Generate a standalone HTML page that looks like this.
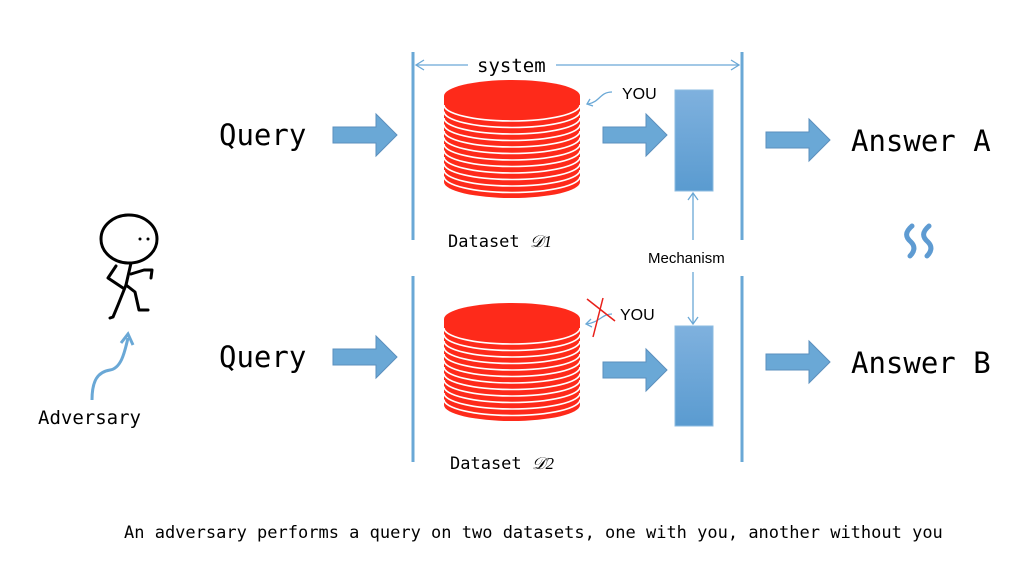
<!DOCTYPE html>
<html><head><meta charset="utf-8"><style>
body{margin:0;background:#fff;}
svg{display:block}
text{font-family:"DejaVu Sans Mono","Liberation Mono",monospace;fill:#000}
.s{font-family:"Liberation Sans",sans-serif}
</style></head><body>
<svg width="1024" height="567" viewBox="0 0 1024 567" xmlns="http://www.w3.org/2000/svg">
<defs>
<linearGradient id="g" x1="0" y1="0" x2="0" y2="1"><stop offset="0" stop-color="#7fb1de"/><stop offset="1" stop-color="#5a9bd0"/></linearGradient>
<g id="cyl">
<path d="M444 0 L444 86 A68 16 0 0 0 580 86 L580 0 Z" fill="#fe2a1a"/>
<g fill="none" stroke="#fff" stroke-width="1.6">
<path d="M444 9 A68 16 0 0 0 580 9"/><path d="M444 15.5 A68 16 0 0 0 580 15.5"/>
<path d="M444 22 A68 16 0 0 0 580 22"/><path d="M444 28.5 A68 16 0 0 0 580 28.5"/>
<path d="M444 35 A68 16 0 0 0 580 35"/><path d="M444 41.5 A68 16 0 0 0 580 41.5"/>
<path d="M444 48 A68 16 0 0 0 580 48"/><path d="M444 54.5 A68 16 0 0 0 580 54.5"/>
<path d="M444 61 A68 16 0 0 0 580 61"/><path d="M444 67.5 A68 16 0 0 0 580 67.5"/>
<path d="M444 74 A68 16 0 0 0 580 74"/><path d="M444 80.5 A68 16 0 0 0 580 80.5"/>
</g>
<ellipse cx="512" cy="0" rx="68" ry="16" fill="#fe2a1a"/>
</g>
<path id="bigarrow" d="M0 10 H43 V-3 L64 18 L43 39 V26 H0 Z" fill="#6aa8d6" stroke="#5b8fbd" stroke-width="1"/>
</defs>

<g stroke="#6aa8d6" stroke-width="3">
<line x1="413" y1="52" x2="413" y2="240"/><line x1="742" y1="52" x2="742" y2="240"/>
<line x1="413" y1="276" x2="413" y2="462"/><line x1="742" y1="276" x2="742" y2="462"/>
</g>
<g stroke="#6aa8d6" stroke-width="1.3" fill="none">
<line x1="416" y1="65" x2="468" y2="65"/><line x1="556" y1="65" x2="739" y2="65"/>
<path d="M424 60 L416 65 L424 70"/><path d="M731 60 L739 65 L731 70"/>
</g>
<text x="477" y="72" font-size="19">system</text>

<use href="#cyl" y="96"/>
<use href="#cyl" y="319"/>

<use href="#bigarrow" x="333" y="117"/>
<use href="#bigarrow" x="333" y="339"/>
<use href="#bigarrow" x="603" y="117"/>
<use href="#bigarrow" x="603" y="352"/>
<use href="#bigarrow" x="766" y="122"/>
<use href="#bigarrow" x="766" y="344"/>

<rect x="675" y="90" width="38" height="101" fill="url(#g)" stroke="#8bbbe0"/>
<rect x="675" y="326" width="38" height="100" fill="url(#g)" stroke="#8bbbe0"/>
<g stroke="#6aa8d6" stroke-width="1.3" fill="none">
<line x1="693" y1="193" x2="693" y2="240"/><path d="M688 200 L693 193 L698 200"/>
<line x1="693" y1="272" x2="693" y2="324"/><path d="M688 317 L693 324 L698 317"/>
<path d="M612 92 C600 92 600 102 588 104"/><path d="M590 99 L587 104 L593 106"/>
<path d="M612 314 C602 314 600 322 587 324"/><path d="M591 319 L586 324 L592 327"/>
</g>
<g stroke="#e8201a" stroke-width="1.5"><line x1="587" y1="299" x2="615" y2="321"/><line x1="603" y1="298" x2="593" y2="337"/></g>
<text class="s" x="622" y="99" font-size="16">YOU</text>
<text class="s" x="620" y="320" font-size="16">YOU</text>
<text class="s" x="648" y="263" font-size="15">Mechanism</text>

<text x="448" y="247" font-size="17">Dataset <tspan font-family="Liberation Serif" font-style="italic">𝒟1</tspan></text>
<text x="450" y="469" font-size="17">Dataset <tspan font-family="Liberation Serif" font-style="italic">𝒟2</tspan></text>

<text x="219" y="145" font-size="29">Query</text>
<text x="219" y="367" font-size="29">Query</text>
<text x="851" y="151" font-size="29">Answer A</text>
<text x="851" y="373" font-size="29">Answer B</text>

<g stroke="#5e9bd2" stroke-width="5" fill="none" stroke-linecap="round">
<path d="M912 226 C905 232 905 237 911 242 C916 247 914 252 910 256"/>
<path d="M929 226 C922 232 922 237 928 242 C933 247 931 252 927 256"/>
</g>

<g stroke="#000" stroke-width="3" fill="none" stroke-linecap="round" stroke-linejoin="round">
<ellipse cx="129" cy="239" rx="28" ry="24"/>
<path d="M131 263 L126 285 L118 305 L113 317 L110 318"/>
<path d="M126 285 L135 292 L139 310 L148 310"/>
<path d="M116 266 L108 278 L123 288"/>
<path d="M131 274 L144 270 L152 270 L151 278"/>
</g>
<circle cx="140" cy="239" r="1.5"/><circle cx="148" cy="239" r="1.5"/>
<path d="M92 400 C92 380 98 372 110 370 C122 368 125 350 128 338" stroke="#6aa8d6" stroke-width="3" fill="none"/>
<path d="M121 343 L128 334 L133 345" stroke="#6aa8d6" stroke-width="3" fill="none"/>
<text x="38" y="424" font-size="19">Adversary</text>

<text x="124" y="538" font-size="17">An adversary performs a query on two datasets, one with you, another without you</text>
</svg>
</body></html>
